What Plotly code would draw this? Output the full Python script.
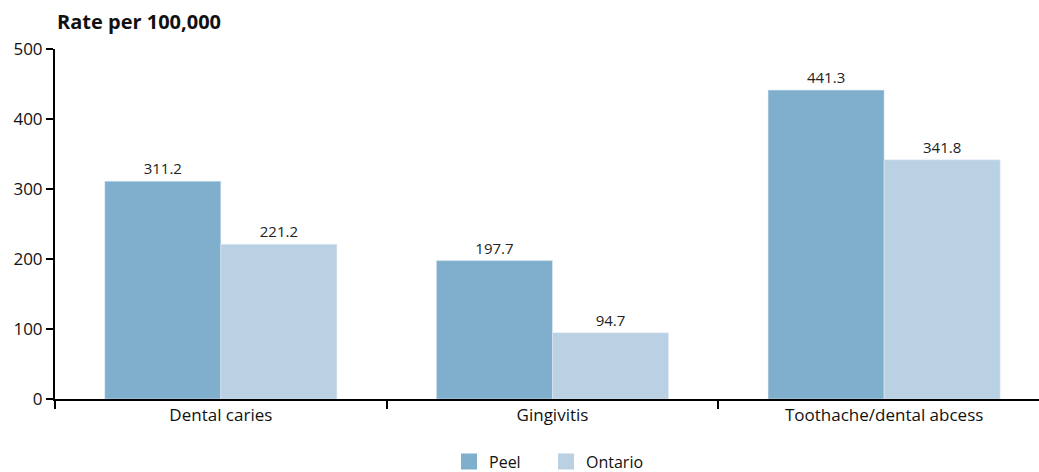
import plotly.graph_objects as go

categories = ["Dental caries", "Gingivitis", "Toothache/dental abcess"]
peel = [311.2, 197.7, 441.3]
ontario = [221.2, 94.7, 341.8]
y_ticks = [0, 100, 200, 300, 400, 500]

FONT = "'Open Sans', 'Noto Sans', sans-serif"
PEEL_C = "#7FAFCD"
ONT_C = "#BAD1E4"

fig = go.Figure()
fig.add_trace(go.Bar(x=categories, y=peel, name="Peel", marker_color=PEEL_C,
                     text=[f"{v:.1f}" for v in peel], textposition="outside",
                     textfont=dict(size=15, color="#222"), cliponaxis=False,
                     showlegend=False))
fig.add_trace(go.Bar(x=categories, y=ontario, name="Ontario", marker_color=ONT_C,
                     text=[f"{v:.1f}" for v in ontario], textposition="outside",
                     textfont=dict(size=15, color="#222"), cliponaxis=False,
                     showlegend=False))
# legend proxies (larger square swatches)
for name, col in [("Peel", PEEL_C), ("Ontario", ONT_C)]:
    fig.add_trace(go.Scatter(x=[None], y=[None], mode="markers", name=name,
                             marker=dict(symbol="square", size=20, color=col)))

fig.update_layout(
    width=1039, height=472,
    margin=dict(l=55, r=0, t=49, b=73, autoexpand=False),
    barmode="group", bargap=0.3, bargroupgap=0,
    plot_bgcolor="white", paper_bgcolor="white",
    font=dict(family=FONT, size=17, color="#111"),
    title=dict(text="<b>Rate per 100,000</b>", x=57/1039, xanchor="left",
               y=1-22/472, yanchor="middle", automargin=False,
               font=dict(size=20, color="#111")),
    legend=dict(orientation="h", x=0.499, xanchor="center", y=-0.13, yanchor="top",
                font=dict(size=16), itemwidth=30, traceorder="normal",
                itemsizing="trace", entrywidth=52, entrywidthmode="pixels"),
    showlegend=True,
)
fig.update_xaxes(type="category", range=[-0.5, 2.467], showline=True, linecolor="black",
                 linewidth=2, ticks="outside", tickson="boundaries", ticklen=8,
                 tickwidth=1.5, tickcolor="black", showgrid=False, automargin=False,
                 tickfont=dict(size=17))
fig.update_yaxes(range=[0, 500], tickvals=y_ticks, showline=True, linecolor="black",
                 linewidth=2, ticks="outside", ticklen=7, tickwidth=1.5,
                 tickcolor="black", showgrid=False, zeroline=False, automargin=False,
                 tickfont=dict(size=17))

fig.write_html("out.html", config={"displayModeBar": False},
               post_script="document.body.style.margin='0';")
